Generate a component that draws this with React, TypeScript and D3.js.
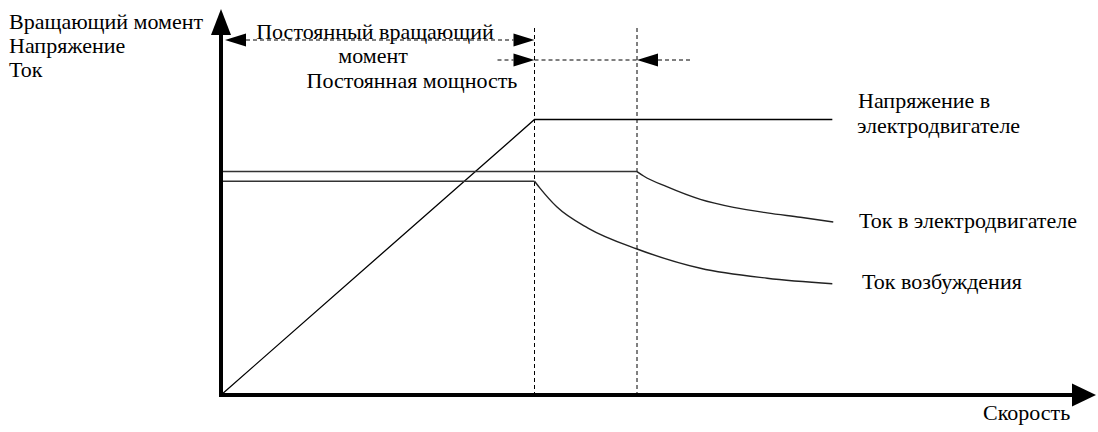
import React from "react";
import * as d3 from "d3";

// speed in units of base speed, values in units of rated voltage
const voltagePts: [number, number][] = [[0, 0], [1, 1], [1.95, 1]];
const motorFlat: [number, number][] = [[0, 0.811], [1.327, 0.811]];
const motorCurve: [number, number][] = [
  [1.327, 0.811], [1.348, 0.795], [1.422, 0.756], [1.529, 0.71],
  [1.635, 0.681], [1.742, 0.661], [1.848, 0.645], [1.953, 0.628],
];
const fieldFlat: [number, number][] = [[0, 0.776], [1, 0.776]];
const fieldCurve: [number, number][] = [
  [1, 0.776], [1.018, 0.75], [1.071, 0.683], [1.172, 0.605], [1.327, 0.53],
  [1.529, 0.46], [1.742, 0.424], [1.95, 0.404],
];
const breakSpeeds = [1, 1.327];
const yAxisLabels = ["Вращающий момент", "Напряжение", "Ток"];
const xAxisLabel = "Скорость";
const regionLabels = ["Постоянный вращающий", "момент", "Постоянная мощность"];
const voltageLabel = ["Напряжение в", "электродвигателе"];
const motorLabel = "Ток в электродвигателе";
const fieldLabel = "Ток возбуждения";

const W = 1098;
const H = 432;
const FONT = "Liberation Serif";
const FS = 22;

export default function App() {
  const x = d3.scaleLinear().domain([0, 1]).range([221, 534.5]);
  const y = d3.scaleLinear().domain([0, 1]).range([395, 119.5]);
  const lin = d3.line<[number, number]>().x((d) => x(d[0])).y((d) => y(d[1]));
  const mono = d3
    .line<[number, number]>()
    .x((d) => x(d[0]))
    .y((d) => y(d[1]))
    .curve(d3.curveMonotoneX);

  const x0 = x(0);
  const y0 = y(0);
  const xb1 = x(breakSpeeds[0]);
  const xb2 = x(breakSpeeds[1]);
  const ah = 21; // arrowhead length
  const aw = 6.5; // arrowhead half width

  const arrowRight = (tx: number, ty: number) =>
    `M${tx},${ty}L${tx - ah},${ty - aw}L${tx - ah},${ty + aw}Z`;
  const arrowLeft = (tx: number, ty: number) =>
    `M${tx},${ty}L${tx + ah},${ty - aw}L${tx + ah},${ty + aw}Z`;

  const r1 = 40;
  const r2 = 60;

  const T = (props: { x: number; y: number; anchor?: string; children: string }) => (
    <text
      x={props.x}
      y={props.y}
      textAnchor={props.anchor || "start"}
      fontFamily={FONT}
      fontSize={FS}
      fill="#000"
    >
      {props.children}
    </text>
  );

  return (
    <svg
      width={W}
      height={H}
      style={{ position: "fixed", left: 0, top: 0, background: "#fff" }}
    >
      <rect x={0} y={0} width={W} height={H} fill="#fff" />
      {/* dashed verticals */}
      {breakSpeeds.map((s) => (
        <line
          key={s}
          x1={x(s)}
          x2={x(s)}
          y1={28}
          y2={y0}
          stroke="#000"
          strokeWidth={1}
          strokeDasharray="4,3"
        />
      ))}
      {/* curves */}
      <path d={lin(voltagePts) || ""} fill="none" stroke="#000" strokeWidth={1.3} />
      <path d={lin(motorFlat) || ""} fill="none" stroke="#333" strokeWidth={1.4} />
      <path d={mono(motorCurve) || ""} fill="none" stroke="#222" strokeWidth={1.4} />
      <path d={lin(fieldFlat) || ""} fill="none" stroke="#333" strokeWidth={1.4} />
      <path d={mono(fieldCurve) || ""} fill="none" stroke="#222" strokeWidth={1.4} />

      {/* axes */}
      <line x1={x0} x2={x0} y1={y0 + 2} y2={30} stroke="#000" strokeWidth={4} />
      <path d={`M${x0},9L${x0 - 10},35L${x0 + 10},35Z`} fill="#000" />
      <line x1={x0 - 2} x2={1075} y1={y0} y2={y0} stroke="#000" strokeWidth={4} />
      <path d={`M1096,${y0}L1072,${y0 - 11.5}L1072,${y0 + 11.5}Z`} fill="#000" />

      {/* region annotation row 1 */}
      <line
        x1={x0 + 4 + ah}
        x2={xb1 - ah}
        y1={r1}
        y2={r1}
        stroke="#000"
        strokeWidth={1}
        strokeDasharray="4,3"
      />
      <path d={arrowLeft(x0 + 4, r1)} fill="#000" />
      <path d={arrowRight(xb1, r1)} fill="#000" />
      {/* row 2 */}
      <line x1={xb1 - ah - 16} x2={xb1 - ah} y1={r2} y2={r2} stroke="#000" strokeWidth={1} strokeDasharray="4,3" />
      <path d={arrowRight(xb1, r2)} fill="#000" />
      <line x1={xb1} x2={xb2} y1={r2} y2={r2} stroke="#000" strokeWidth={1} strokeDasharray="4,3" />
      <path d={arrowLeft(xb2, r2)} fill="#000" />
      <line x1={xb2 + ah} x2={xb2 + ah + 34} y1={r2} y2={r2} stroke="#000" strokeWidth={1} strokeDasharray="4,3" />

      <T x={375} y={39} anchor="middle">{regionLabels[0]}</T>
      <T x={373} y={63} anchor="middle">{regionLabels[1]}</T>
      <T x={412} y={88} anchor="middle">{regionLabels[2]}</T>

      {/* y axis labels */}
      {yAxisLabels.map((t, i) => (
        <T key={t} x={9} y={29 + i * 24}>{t}</T>
      ))}
      {/* x axis label */}
      <T x={983} y={420}>{xAxisLabel}</T>

      {/* series labels */}
      <T x={858} y={108}>{voltageLabel[0]}</T>
      <T x={857} y={133}>{voltageLabel[1]}</T>
      <T x={859} y={228}>{motorLabel}</T>
      <T x={862} y={289}>{fieldLabel}</T>
    </svg>
  );
}
